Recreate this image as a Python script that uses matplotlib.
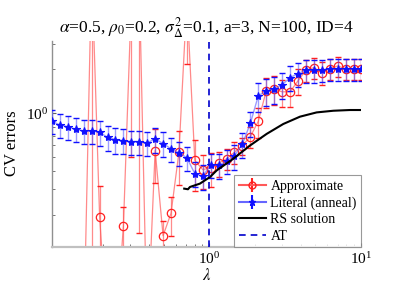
import numpy as np
import matplotlib
matplotlib.use("Agg")
import matplotlib.pyplot as plt
from matplotlib.ticker import NullFormatter, FixedLocator, LogFormatterSciNotation
from matplotlib.lines import Line2D

plt.rcParams['font.family'] = ['Liberation Serif', 'DejaVu Serif']
plt.rcParams['mathtext.fontset'] = 'stix'

# lambda grid (40 points)
lam = [0.092, 0.1038, 0.1171, 0.1320, 0.1489, 0.1680, 0.1895, 0.2137, 0.2410, 0.2719,
       0.3067, 0.3459, 0.3901, 0.4400, 0.4963, 0.5598, 0.6314, 0.7122, 0.8033, 0.9061,
       1.022, 1.153, 1.300, 1.466, 1.654, 1.866, 2.104, 2.374, 2.677, 3.020,
       3.406, 3.842, 4.333, 4.888, 5.513, 6.218, 7.014, 7.911, 8.923, 10.0]

# Literal (anneal)
lit = [0.878, 0.829, 0.807, 0.774, 0.755, 0.755, 0.738, 0.682, 0.658, 0.648,
       0.638, 0.638, 0.625, 0.665, 0.618, 0.569, 0.534, 0.494, 0.384, 0.368,
       0.442, 0.437, 0.469, 0.508, 0.615, 0.850, 1.315, 1.422, 1.461, 1.563,
       1.753, 1.867, 1.970, 1.970, 1.979, 2.020, 2.020, 2.020, 2.020, 2.020]
lit_err = [0.165, 0.155, 0.150, 0.145, 0.140, 0.140, 0.140, 0.130, 0.130, 0.125,
           0.120, 0.120, 0.120, 0.130, 0.120, 0.110, 0.100, 0.095, 0.075, 0.070,
           0.085, 0.085, 0.090, 0.100, 0.120, 0.160, 0.300, 0.300, 0.300, 0.320,
           0.340, 0.350, 0.350, 0.350, 0.350, 0.350, 0.350, 0.350, 0.350, 0.350]

# Approximate
apx = [0.03, 0.03, 0.03, 0.03, 0.03, 10.0, 0.194, 0.03, 0.03, 0.1675,
       6.0, 8.0, 0.03, 0.553, 0.144, 0.205, 0.539, 6.0, 0.473, 0.409,
       0.422, 0.453, 0.486, 0.539, 0.599, 0.690, 0.878, 1.422, 1.461, 1.400,
       1.400, 1.664, 1.970, 2.052, 1.897, 2.020, 2.108, 2.020, 2.020, 2.020]
apx_err = [0.01, 0.01, 0.01, 0.01, 0.01, 9.9, 0.120, 0.01, 0.01, 0.058,
           5.5, 7.85, 0.01, 0.220, 0.038, 0.061, 0.220, 3.83, 0.180, 0.110,
           0.110, 0.090, 0.080, 0.090, 0.080, 0.110, 0.200, 0.330, 0.330, 0.300,
           0.300, 0.330, 0.330, 0.330, 0.330, 0.330, 0.330, 0.330, 0.330, 0.330]

# RS solution
rs_lam = [0.684, 0.724, 0.746, 0.868, 1.011, 1.119, 1.439, 1.855, 2.39, 3.075,
          3.96, 5.10, 6.57, 8.46, 10.0]
rs_val = [0.303, 0.300, 0.311, 0.328, 0.364, 0.404, 0.486, 0.599, 0.720, 0.842,
          0.945, 1.011, 1.038, 1.050, 1.050]

lam_AT = 1.0
x_ticks = [1, 10]

fig = plt.figure(figsize=(3.99, 2.99), dpi=100)
ax = fig.add_axes([0.1303, 0.1749, 0.9048 - 0.1303, 0.8645 - 0.1749])
ax.set_xscale('log')
ax.set_yscale('log')

red = '#ff2020'
blue = '#1010ff'

# Approximate
ax.errorbar(lam, apx, yerr=apx_err, fmt='none', ecolor=(1, 0.3, 0.3, 0.65),
            elinewidth=0.9, capsize=0, zorder=2)
ax.plot(lam, apx, '-', color=(1, 0.35, 0.35), alpha=0.7, lw=0.9, zorder=2)
ax.plot(lam, apx, 'o', mfc='none', mec=red, ms=6, mew=0.9, zorder=3)
ax.errorbar(lam, apx, yerr=apx_err, fmt='none', ecolor=red, elinewidth=0,
            capsize=2, capthick=1.0, zorder=2.5)

# Literal (anneal)
ax.errorbar(lam, lit, yerr=lit_err, fmt='none', ecolor=(0.3, 0.3, 1, 0.55),
            elinewidth=1.0, capsize=0, zorder=3)
ax.plot(lam, lit, '-', color=(0.35, 0.35, 1), alpha=0.6, lw=1.0, zorder=3)
ax.plot(lam, lit, '*', color=blue, ms=6, mew=0.8, zorder=4)
ax.errorbar(lam, lit, yerr=lit_err, fmt='none', ecolor=blue, elinewidth=0,
            capsize=2, capthick=1.0, zorder=3.5)

ax.plot(rs_lam, rs_val, '-', color='k', lw=1.5, zorder=5)
ax.axvline(lam_AT, color='#0000cc', ls=(0, (4, 3)), lw=1.2, zorder=5)

ax.set_xlim(0.092, 10)
ax.set_ylim(0.121, 3.15)

# legend handles
h1 = ax.errorbar([], [], yerr=[], fmt='-o', color=(1, 0.35, 0.35), mfc='none', mec=red,
                 ms=5, ecolor=red, capsize=2)
h2 = ax.errorbar([], [], yerr=[], fmt='-*', color=(0.4, 0.4, 1), mfc=blue, mec=blue,
                 ms=5, ecolor=blue, capsize=2)
h3 = Line2D([], [], color='k', lw=1.5)
h4 = Line2D([], [], color='#0000cc', ls=(0, (4, 3)), lw=1.2)
leg = ax.legend([h1, h2, h3, h4], ['Approximate', 'Literal (anneal)', 'RS solution', 'AT'],
                loc='lower right', bbox_to_anchor=(1.0, 0.0), fontsize=10,
                frameon=True, fancybox=False, borderaxespad=0, handlelength=2.0,
                handletextpad=0.3, borderpad=0.3, labelspacing=0.25)
leg.get_frame().set_edgecolor('#808080')
leg.get_frame().set_linewidth(0.8)
leg.set_zorder(10)

for s in ['top', 'right']:
    ax.spines[s].set_visible(False)
ax.spines['left'].set_color('#909090')
ax.spines['left'].set_linewidth(1.0)
ax.spines['bottom'].set_linewidth(1.6)
ax.spines['bottom'].set_color('#c0c0c0')

ax.xaxis.set_major_locator(FixedLocator(x_ticks))
ax.xaxis.set_major_formatter(LogFormatterSciNotation())
ax.tick_params(which='both', direction='in', color='#606060', labelsize=11, pad=3)
ax.tick_params(which='major', length=3)
ax.tick_params(which='minor', length=2)
ax.yaxis.set_minor_formatter(NullFormatter())
ax.xaxis.set_minor_formatter(NullFormatter())

ax.set_title(r'$\alpha$=0.5, $\rho_0$=0.2, $\sigma^2_\Delta$=0.1, a=3, N=100, ID=4',
             fontsize=12.5, pad=6)
ax.set_ylabel('CV errors', fontsize=12)
ax.set_xlabel(r'$\lambda$', fontsize=12, labelpad=1)

fig.savefig('out.png', dpi=100)
